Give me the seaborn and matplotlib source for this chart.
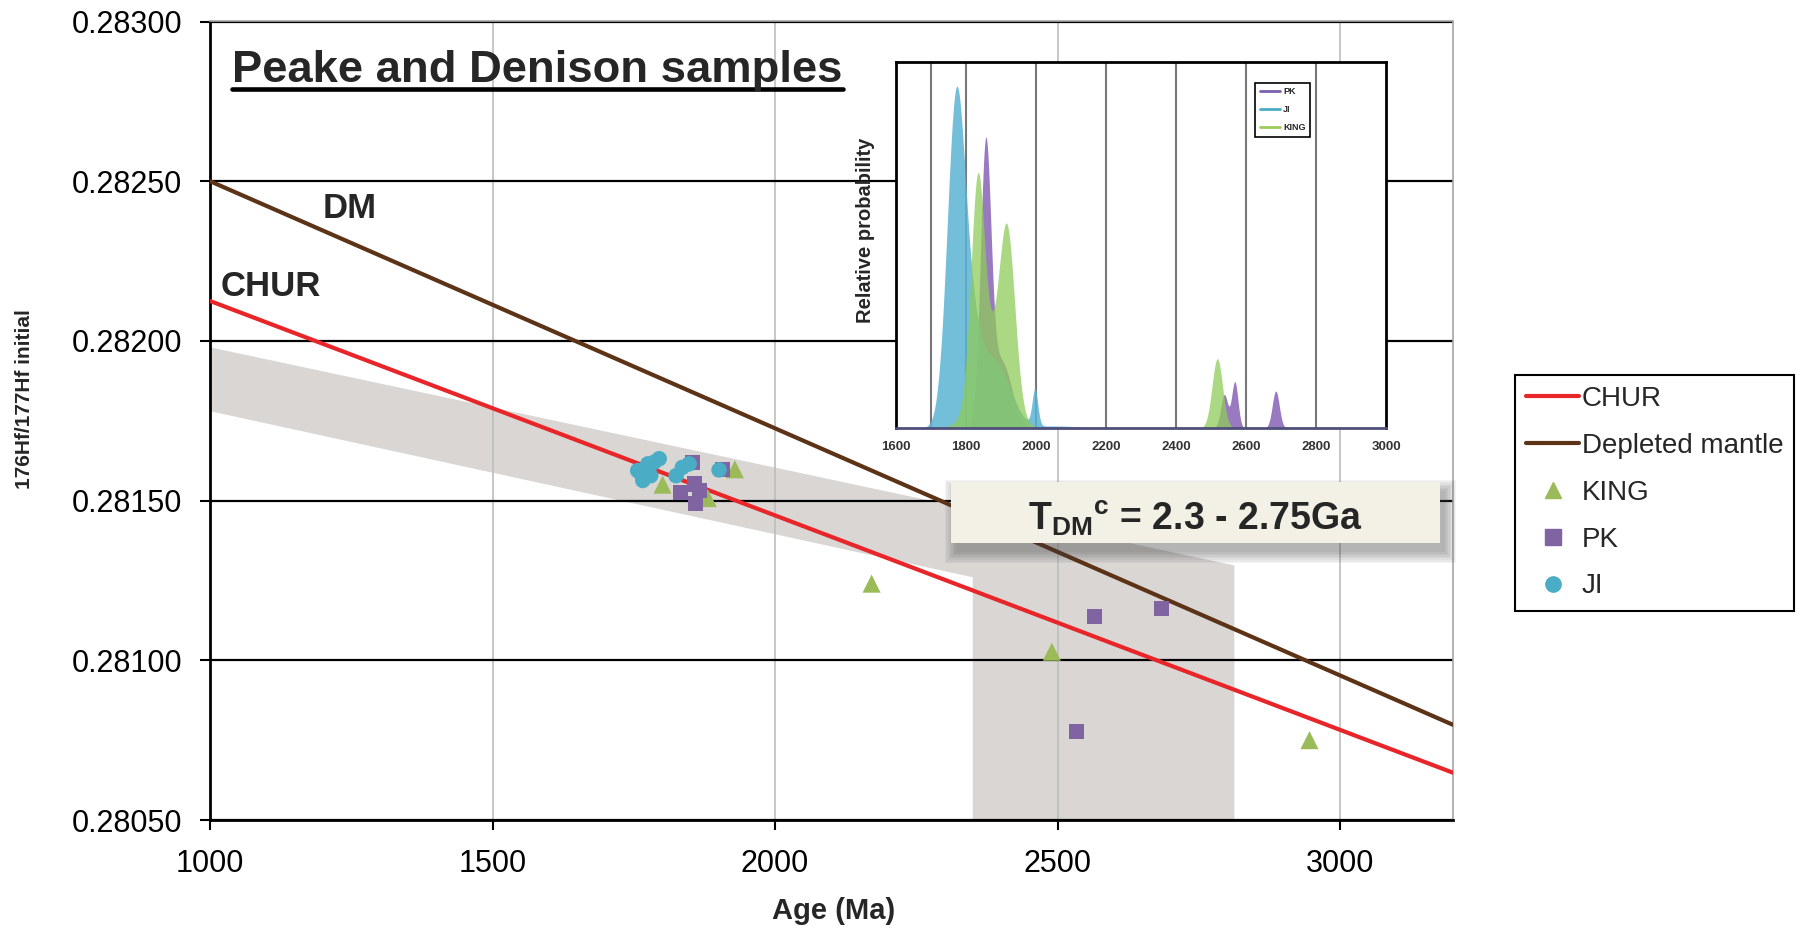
import numpy as np
import matplotlib.pyplot as plt
from matplotlib.lines import Line2D
from matplotlib.patches import Rectangle
import seaborn as sns

# ---- main diagram: values ----
king_age = [1801, 1881, 1929, 2171, 2490, 2946]
king_hf = [0.281550, 0.281508, 0.281598, 0.281240, 0.281027, 0.280750]

pk_age = [1833, 1854, 1857, 1860, 1866, 1907, 2534, 2565, 2684]
pk_hf = [0.281526, 0.281620, 0.281552, 0.281490, 0.281531, 0.281596,
         0.280777, 0.281137, 0.281162]

ji_age = [1757, 1763, 1766, 1775, 1780, 1786, 1795, 1825, 1836, 1848, 1901]
ji_hf = [0.281594, 0.281584, 0.281563, 0.281615, 0.281578, 0.281620,
         0.281631, 0.281578, 0.281604, 0.281615, 0.281596]

line_age = [1000, 3200]
chur_hf = [0.282125, 0.280648]
dm_hf = [0.282500, 0.280798]

# grey evolution band + TDM window
band_age = [1000, 2813, 2813, 2350, 2350, 1000]
band_hf = [0.281980, 0.281297, 0.280500, 0.280500, 0.281260, 0.281780]

x_ticks = [1000, 1500, 2000, 2500, 3000]
y_ticks = [0.2805, 0.2810, 0.2815, 0.2820, 0.2825, 0.2830]

# ---- inset: relative probability peaks (centre, height, width) ----
ji_peak_age = [1772, 1820, 1880, 1997, 2060]
ji_peak_height = [983, 180, 200, 108, 6]
ji_peak_width = [26, 25, 45, 8, 60]

pk_peak_age = [1856, 1900, 2538, 2568, 2685]
pk_peak_height = [803, 200, 100, 138, 111]
pk_peak_width = [15, 30, 10, 9, 10]

king_peak_age = [1833, 1918, 1870, 2518]
king_peak_height = [600, 480, 230, 208]
king_peak_width = [19, 22, 45, 15]

inset_ticks = list(range(1600, 3001, 200))
inset_grid = [1700, 1800, 2000, 2200, 2400, 2600, 2800]

c_king = '#9BBB59'
c_pk = '#8064A2'
c_ji = '#4BACC6'
c_chur = '#E8262A'
c_dm = '#5C3317'

sns.set_style('white')
plt.rcParams['font.family'] = ['Liberation Sans', 'DejaVu Sans']
plt.rcParams['mathtext.fontset'] = 'custom'
plt.rcParams['mathtext.rm'] = 'Liberation Sans'
plt.rcParams['mathtext.bf'] = 'Liberation Sans:bold'
plt.rcParams['mathtext.it'] = 'Liberation Sans:italic'

W, H = 1801, 930
fig = plt.figure(figsize=(W / 100, H / 100), dpi=100)
ax = fig.add_axes([210 / W, 1 - 820 / H, (1453 - 210) / W, (820 - 21.5) / H])

ax.fill(band_age, band_hf, color='#D9D6D4', lw=0, zorder=0.2)
sns.lineplot(x=line_age, y=chur_hf, color=c_chur, lw=3, ax=ax, zorder=3)
sns.lineplot(x=line_age, y=dm_hf, color=c_dm, lw=3, ax=ax, zorder=3)

sns.scatterplot(x=king_age, y=king_hf, marker='^', s=170, color=c_king,
                edgecolor='none', ax=ax, zorder=4)
sns.scatterplot(x=pk_age, y=pk_hf, marker='s', s=117, color=c_pk,
                edgecolor='none', ax=ax, zorder=4)
sns.scatterplot(x=ji_age, y=ji_hf, marker='o', s=125, color=c_ji,
                edgecolor='none', ax=ax, zorder=4)

ax.set_xlim(1000, 3200)
ax.set_ylim(0.2805, 0.2830)
ax.set_xticks(x_ticks)
ax.set_yticks(y_ticks)
ax.set_yticklabels([f'{v:.5f}' for v in y_ticks])
ax.set_axisbelow(True)
ax.yaxis.grid(True, color='black', lw=1.6)
ax.xaxis.grid(True, color='#BDBDBD', lw=1.2)
for s in ['left', 'bottom']:
    ax.spines[s].set_color('black')
    ax.spines[s].set_linewidth(2)
for s in ['top', 'right']:
    ax.spines[s].set_color('#A6A6A6')
    ax.spines[s].set_linewidth(1.2)
ax.tick_params(axis='both', direction='out', length=7, width=1.5,
               labelsize=22, colors='black')
ax.tick_params(axis='y', pad=13, left=True)
ax.tick_params(axis='x', pad=14, bottom=True)

ax.set_xlabel('Age (Ma)', fontsize=21, fontweight='bold')
ax.xaxis.set_label_coords(0.502, -0.0964)
ax.set_ylabel('176Hf/177Hf initial', fontsize=15, fontweight='bold')
ax.yaxis.set_label_coords(-0.1416, 0.527)

ax.text(1200, 0.282384, 'DM', fontsize=25, fontweight='bold', va='baseline')
ax.text(1018, 0.282140, 'CHUR', fontsize=25, fontweight='bold', va='baseline')

# title with underline
fig.text(232 / W, 1 - 82 / H, 'Peake and Denison samples', fontsize=32.7,
         fontweight='bold', va='baseline')
fig.add_artist(Line2D([232 / W, 843 / W], [1 - 89 / H] * 2,
                      transform=fig.transFigure, color='black', lw=3.3))

# legend
handles = [
    Line2D([], [], color=c_chur, lw=3),
    Line2D([], [], color=c_dm, lw=3),
    Line2D([], [], ls='none', marker='^', ms=12, color=c_king),
    Line2D([], [], ls='none', marker='s', ms=11, color=c_pk),
    Line2D([], [], ls='none', marker='o', ms=11, color=c_ji),
]
labels = ['CHUR', 'Depleted mantle', 'KING', 'PK', 'JI']
leg = fig.legend(handles, labels, loc='upper left',
                 bbox_to_anchor=(1515 / W, 1 - 375 / H), fontsize=20,
                 handlelength=1.9, handletextpad=0.1, labelspacing=0.75,
                 borderpad=0.4, borderaxespad=0, fancybox=False,
                 edgecolor='black', framealpha=1)
leg.get_frame().set_linewidth(1.5)

# TDM box with soft shadow
bx0, bx1, by0, by1 = 951, 1440, 482, 543
for i in range(8):
    p = i * 1.6
    fig.add_artist(Rectangle(((bx0 + 5 - p) / W, 1 - (by1 + 9 + p) / H),
                             (bx1 - bx0 + 2 * p) / W, (by1 - by0 + 2 * p) / H,
                             transform=fig.transFigure, color='#444444',
                             alpha=0.06, lw=0))
fig.add_artist(Rectangle((bx0 / W, 1 - by1 / H), (bx1 - bx0) / W,
                         (by1 - by0) / H, transform=fig.transFigure,
                         facecolor='#F3F1E6', edgecolor='none'))
fig.text(1195 / W, 1 - 530 / H, r'$\mathbf{T_{DM}{}^{c}}$ = 2.3 - 2.75Ga',
         fontsize=27, fontweight='bold', ha='center', va='baseline')

# ---- inset probability plot ----
ax_in = fig.add_axes([896 / W, 1 - 428 / H, 490 / W, 366 / H])
grid = np.linspace(1600, 3000, 1401)


def prob_curve(ages, heights, widths):
    y = np.zeros_like(grid)
    for a, h, w in zip(ages, heights, widths):
        y += h * np.exp(-0.5 * ((grid - a) / w) ** 2)
    return y


ax_in.fill_between(grid, prob_curve(pk_peak_age, pk_peak_height, pk_peak_width),
                   color='#8E6BB8', alpha=0.9, lw=0, zorder=2)
ax_in.fill_between(grid, prob_curve(ji_peak_age, ji_peak_height, ji_peak_width),
                   color='#5BB3D3', alpha=0.85, lw=0, zorder=2)
ax_in.fill_between(grid, prob_curve(king_peak_age, king_peak_height, king_peak_width),
                   color='#8FCB5A', alpha=0.75, lw=0, zorder=2)
for g in inset_grid:
    ax_in.axvline(g, color='#777777', lw=1.5, zorder=0.5)

ax_in.set_xlim(1600, 3000)
ax_in.set_ylim(0, 1098)
ax_in.set_xticks(inset_ticks)
ax_in.set_xticks(range(1600, 3001, 40), minor=True)
ax_in.set_yticks([])
ax_in.tick_params(axis='x', which='major', length=4, width=1, pad=5,
                  labelsize=9.5, colors='#333333')
ax_in.tick_params(axis='x', which='minor', length=3, width=0.8,
                  direction='inout', colors='#555577')
for lab in ax_in.get_xticklabels():
    lab.set_fontweight('bold')
for s in ax_in.spines.values():
    s.set_color('black')
    s.set_linewidth(2)
ax_in.spines['bottom'].set_color('#4F4F7A')
ax_in.set_ylabel('Relative probability', fontsize=14.5, fontweight='bold')
ax_in.yaxis.set_label_coords(-0.043, 0.54)

in_handles = [Line2D([], [], color='#7F5FAF', lw=2),
              Line2D([], [], color=c_ji, lw=2),
              Line2D([], [], color='#9BCB5A', lw=2)]
in_leg = ax_in.legend(in_handles, ['PK', 'JI', 'KING'], loc='upper left',
                      bbox_to_anchor=(0.733, 0.943), prop={'size': 6.5, 'weight': 'bold'},
                      handlelength=2.3, handletextpad=0.3, labelspacing=1.0,
                      borderpad=0.5, borderaxespad=0, fancybox=False,
                      edgecolor='black', framealpha=1)
in_leg.get_frame().set_linewidth(1.2)

fig.savefig('out.png', dpi=100)
